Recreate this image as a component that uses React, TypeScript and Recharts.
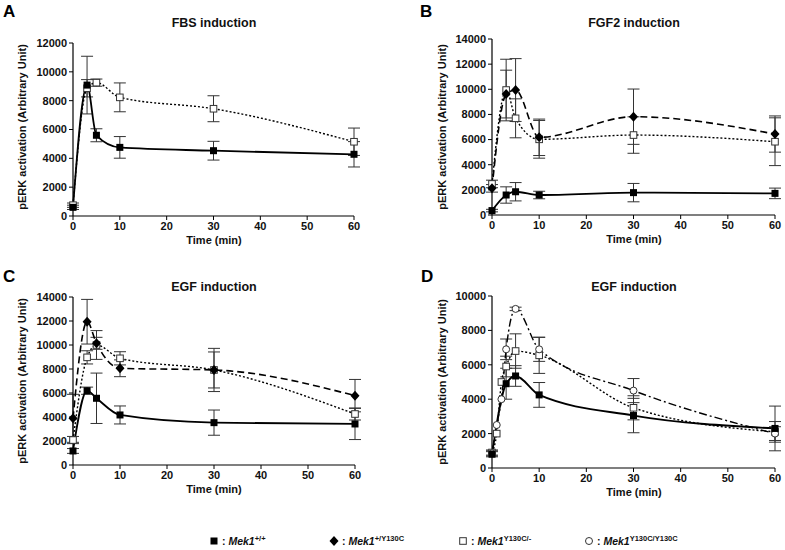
import { LineChart, Line, XAxis, YAxis, ErrorBar } from "recharts";

const FONT = "'Liberation Sans', Arial, Helvetica, sans-serif";

// time points (min)
const times = [0, 3, 5, 10, 30, 60];
const timesD = [0, 1, 2, 3, 5, 10, 30, 60];
const xTicks = [0, 10, 20, 30, 40, 50, 60];
const yTicks12k = [0, 2000, 4000, 6000, 8000, 10000, 12000];
const yTicks14k = [0, 2000, 4000, 6000, 8000, 10000, 12000, 14000];
const yTicks10k = [0, 2000, 4000, 6000, 8000, 10000];

// A - FBS induction
const fbsWt = [600, 9080, 5600, 4760, 4530, 4280];
const fbsWtErr = [150, 2000, 450, 750, 650, 880];
const fbsKo = [750, 8860, 9250, 8230, 7440, 5150];
const fbsKoErr = [150, 600, 250, 1000, 900, 950];

// B - FGF2 induction
const fgfWt = [350, 1590, 1850, 1590, 1780, 1720];
const fgfWtErr = [100, 650, 730, 300, 730, 420];
const fgfHet = [2120, 9620, 9940, 6180, 7820, 6440];
const fgfHetErr = [300, 1900, 2500, 1450, 2200, 1440];
const fgfKo = [2470, 9940, 7690, 6020, 6360, 5830];
const fgfKoErr = [300, 2450, 1550, 1500, 1450, 1900];

// C - EGF induction
const egfWt = [1170, 6190, 5560, 4170, 3530, 3420];
const egfWtErr = [200, 300, 2100, 750, 1050, 1300];
const egfHet = [3890, 11940, 10140, 8060, 7920, 5780];
const egfHetErr = [2000, 1860, 500, 700, 1800, 1350];
const egfKo = [2080, 8970, 10000, 8890, 7920, 4250];
const egfKoErr = [300, 550, 1200, 550, 1500, 500];

// D - EGF induction (homozygous)
const egf2Wt = [800, 4900, 5350, 4250, 3050, 2300];
const egf2WtErr = [150, 900, 600, 720, 1000, 1300];
const egf2Ko = [900, 2000, 5000, 5900, 6800, 6550, 3500, 2100];
const egf2KoErr = [150, 0, 0, 600, 1000, 1050, 700, 600];
const egf2Hom = [850, 2500, 4000, 6900, 9250, 6900, 4500, 2000];
const egf2HomErr = [150, 0, 0, 600, 100, 700, 700, 400];

type Shape = "sq" | "dia" | "osq" | "oc";
type Pt = { t: number; v: number; e: number };

const pts = (ts: number[], vs: number[], es: number[]): Pt[] =>
  ts.map((t, i) => ({ t, v: vs[i], e: es[i] }));

const markerFor = (shape: Shape) => (p: any) => {
  const { cx, cy, index } = p;
  if (cx == null || cy == null) return <g key={index} />;
  if (shape === "sq")
    return <rect key={index} x={cx - 3.5} y={cy - 3.5} width={7} height={7} fill="#000" />;
  if (shape === "dia")
    return (
      <polygon
        key={index}
        points={`${cx},${cy - 5} ${cx + 4.5},${cy} ${cx},${cy + 5} ${cx - 4.5},${cy}`}
        fill="#000"
      />
    );
  if (shape === "osq")
    return (
      <rect key={index} x={cx - 3.3} y={cy - 3.3} width={6.6} height={6.6} fill="#fff" stroke="#333" strokeWidth={1} />
    );
  return <circle key={index} cx={cx} cy={cy} r={3.5} fill="#fff" stroke="#333" strokeWidth={1} />;
};

interface Series {
  name: string;
  data: Pt[];
  shape: Shape;
  dash?: string;
  width: number;
}

const solid = { shape: "sq" as Shape, width: 1.8 };
const dashed = { shape: "dia" as Shape, dash: "7 4", width: 1.6 };
const dotted = { shape: "osq" as Shape, dash: "2 2", width: 1.4 };
const dashDot = { shape: "oc" as Shape, dash: "8 3 2 3", width: 1.4 };

const tickStyle = { fontSize: 11, fontWeight: 700, fill: "#111", fontFamily: FONT };

function Panel(props: {
  left: number;
  top: number;
  yAxisW: number;
  plotW: number;
  plotTop: number;
  plotH: number;
  yMax: number;
  yTicks: number[];
  series: Series[];
}) {
  const { left, top, yAxisW, plotW, plotTop, plotH, yMax, yTicks, series } = props;
  return (
    <div style={{ position: "absolute", left, top }}>
      <LineChart
        width={yAxisW + plotW + 14}
        height={plotTop + plotH + 30}
        margin={{ top: plotTop, right: 14, bottom: 0, left: 0 }}
      >
        <XAxis
          dataKey="t"
          type="number"
          domain={[0, 60]}
          ticks={xTicks}
          height={30}
          tick={tickStyle}
          tickSize={4}
          axisLine={{ stroke: "#000", strokeWidth: 1.2 }}
          tickLine={{ stroke: "#000" }}
          allowDuplicatedCategory={false}
        />
        <YAxis
          type="number"
          domain={[0, yMax]}
          ticks={yTicks}
          interval={0}
          width={yAxisW}
          tick={tickStyle}
          tickSize={4}
          axisLine={{ stroke: "#000", strokeWidth: 1.2 }}
          tickLine={{ stroke: "#000" }}
        />
        {series.map((s) => (
          <Line
            key={s.name}
            data={s.data}
            dataKey="v"
            type="monotone"
            stroke="#000"
            strokeWidth={s.width}
            strokeDasharray={s.dash}
            dot={markerFor(s.shape)}
            activeDot={false}
            isAnimationActive={false}
          >
            <ErrorBar dataKey="e" direction="y" width={6} stroke="#333" strokeWidth={1} />
          </Line>
        ))}
      </LineChart>
    </div>
  );
}

function LegendItem({ x, y, shape, sup }: { x: number; y: number; shape: Shape; sup: string }) {
  return (
    <g>
      {markerFor(shape)({ cx: x, cy: y - 4, index: shape })}
      <text x={x + 8} y={y} fontSize={10.5} fontWeight={700} fontFamily={FONT} fill="#111">
        <tspan> : </tspan>
        <tspan fontStyle="italic">Mek1</tspan>
        <tspan dy={-4} fontSize={7.5}>{sup}</tspan>
      </text>
    </g>
  );
}

const titleProps = { fontSize: 12.5, fontWeight: 700, fontFamily: FONT, fill: "#111", textAnchor: "middle" as const };
const letterProps = { fontSize: 17, fontWeight: 700, fontFamily: FONT, fill: "#000" };
const axisTitle = { fontSize: 11, fontWeight: 700, fontFamily: FONT, fill: "#111", textAnchor: "middle" as const };

export default function App() {
  const yLabel = "pERK activation (Arbitrary Unit)";
  return (
    <div style={{ position: "absolute", left: 0, top: 0, width: 785, height: 550, overflow: "hidden", background: "#fff" }}>
      <Panel
        left={0}
        top={0}
        yAxisW={73}
        plotW={281}
        plotTop={43}
        plotH={173}
        yMax={12000}
        yTicks={yTicks12k}
        series={[
          { name: "ko", data: pts(times, fbsKo, fbsKoErr), ...dotted },
          { name: "wt", data: pts(times, fbsWt, fbsWtErr), ...solid },
        ]}
      />
      <Panel
        left={395}
        top={0}
        yAxisW={97}
        plotW={283}
        plotTop={39}
        plotH={176}
        yMax={14000}
        yTicks={yTicks14k}
        series={[
          { name: "ko", data: pts(times, fgfKo, fgfKoErr), ...dotted },
          { name: "het", data: pts(times, fgfHet, fgfHetErr), ...dashed },
          { name: "wt", data: pts(times, fgfWt, fgfWtErr), ...solid },
        ]}
      />
      <Panel
        left={0}
        top={250}
        yAxisW={73}
        plotW={282}
        plotTop={47}
        plotH={168}
        yMax={14000}
        yTicks={yTicks14k}
        series={[
          { name: "ko", data: pts(times, egfKo, egfKoErr), ...dotted },
          { name: "het", data: pts(times, egfHet, egfHetErr), ...dashed },
          { name: "wt", data: pts(times, egfWt, egfWtErr), ...solid },
        ]}
      />
      <Panel
        left={395}
        top={250}
        yAxisW={97}
        plotW={283}
        plotTop={46}
        plotH={172}
        yMax={10000}
        yTicks={yTicks10k}
        series={[
          { name: "ko", data: pts(timesD, egf2Ko, egf2KoErr), ...dotted },
          { name: "hom", data: pts(timesD, egf2Hom, egf2HomErr), ...dashDot },
          { name: "wt", data: pts(times, egf2Wt, egf2WtErr), ...solid },
        ]}
      />

      <svg width={785} height={550} style={{ position: "absolute", left: 0, top: 0, pointerEvents: "none" }}>
        {/* panel letters */}
        <text x={3} y={17} {...letterProps}>A</text>
        <text x={420} y={17} {...letterProps}>B</text>
        <text x={3} y={282} {...letterProps}>C</text>
        <text x={421} y={282} {...letterProps}>D</text>

        {/* titles */}
        <text x={214} y={27} {...titleProps}>FBS induction</text>
        <text x={634} y={27} {...titleProps}>FGF2 induction</text>
        <text x={214} y={291} {...titleProps}>EGF induction</text>
        <text x={634} y={291} {...titleProps}>EGF induction</text>

        {/* x axis titles */}
        <text x={214} y={244} {...axisTitle}>Time (min)</text>
        <text x={634} y={243} {...axisTitle}>Time (min)</text>
        <text x={214} y={493} {...axisTitle}>Time (min)</text>
        <text x={634} y={496} {...axisTitle}>Time (min)</text>

        {/* y axis titles */}
        <text x={22} y={127} dominantBaseline="central" transform="rotate(-90 22 127)" {...axisTitle}>{yLabel}</text>
        <text x={442} y={127} dominantBaseline="central" transform="rotate(-90 442 127)" {...axisTitle}>{yLabel}</text>
        <text x={22} y={381} dominantBaseline="central" transform="rotate(-90 22 381)" {...axisTitle}>{yLabel}</text>
        <text x={442} y={382} dominantBaseline="central" transform="rotate(-90 442 382)" {...axisTitle}>{yLabel}</text>

        {/* legend */}
        <LegendItem x={214} y={545} shape="sq" sup="+/+" />
        <LegendItem x={334} y={545} shape="dia" sup="+/Y130C" />
        <LegendItem x={463} y={545} shape="osq" sup="Y130C/-" />
        <LegendItem x={589} y={545} shape="oc" sup="Y130C/Y130C" />
      </svg>
    </div>
  );
}
